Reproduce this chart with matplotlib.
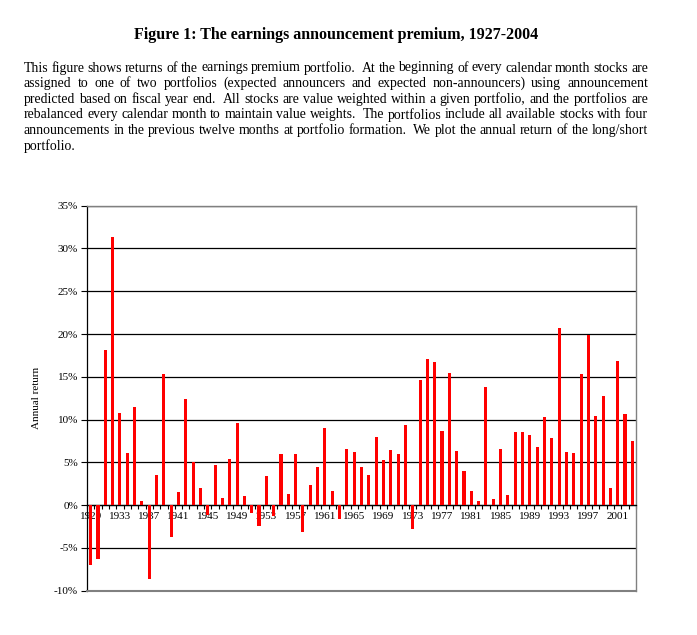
import matplotlib
matplotlib.use("Agg")
import matplotlib.pyplot as plt

# ---- data ----
years = list(range(1929, 2004))
returns = [-7.0, -6.3, 18.1, 31.3, 10.75, 6.1, 11.45, 0.47, -8.65, 3.5,
           15.3, -3.74, 1.5, 12.4, 5.0, 2.0, -1.13, 4.67, 0.82, 5.38,
           9.58, 1.05, -0.9, -2.4, 3.39, -1.25, 5.96, 1.29, 5.96, -3.1,
           2.34, 4.44, 9.0, 1.64, -1.6, 6.54, 6.2, 4.44, 3.5, 7.95,
           5.26, 6.43, 5.96, 9.35, -2.77, 14.6, 17.06, 16.7, 8.65, 15.4,
           6.3, 3.97, 1.64, 0.47, 13.8, 0.7, 6.54, 1.17, 8.53, 8.53,
           8.18, 6.78, 10.28, 7.83, 20.69, 6.19, 6.08, 15.31, 19.87, 10.4,
           12.74, 1.99, 16.83, 10.63, 7.48]
xtick_years = [1929, 1933, 1937, 1941, 1945, 1949, 1953, 1957, 1961, 1965,
               1969, 1973, 1977, 1981, 1985, 1989, 1993, 1997, 2001]
ytick_vals = [-10, -5, 0, 5, 10, 15, 20, 25, 30, 35]
ytick_labels = ["-10%", "-5%", "0%", "5%", "10%", "15%", "20%", "25%", "30%", "35%"]

title = "Figure 1: The earnings announcement premium, 1927-2004"
caption_lines = [
    "This figure shows returns of the earnings premium portfolio.  At the beginning of every calendar month stocks are",
    "assigned to one of two portfolios (expected announcers and expected non-announcers) using announcement",
    "predicted based on fiscal year end.  All stocks are value weighted within a given portfolio, and the portfolios are",
    "rebalanced every calendar month to maintain value weights.  The portfolios include all available stocks with four",
    "announcements in the previous twelve months at portfolio formation.  We plot the annual return of the long/short",
    "portfolio.",
]

SERIF = "Liberation Serif"
W, H = 697, 635
fig = plt.figure(figsize=(W / 100, H / 100), dpi=100)

# title
fig.text(336 / W, 1 - 35 / H, title, ha="center", va="center",
         family=SERIF, fontweight="bold", fontsize=11.5)

# justified caption
renderer = fig.canvas.get_renderer()
x_left, x_right = 24, 648
y0, dy = 68, 15.6
cap_size = 9.9
for li, line in enumerate(caption_lines):
    y = 1 - (y0 + li * dy) / H
    tokens = line.split(" ")
    words = []
    gaps = []
    w = 0
    for t in tokens:
        if t == "":
            w += 1
            continue
        words.append(t)
        gaps.append(w + 1 if words[:-1] else 0)
        w = 0
    texts = [fig.text(0, y, wd, ha="left", va="center", family=SERIF,
                      fontsize=cap_size) for wd in words]
    widths = [t.get_window_extent(renderer).width for t in texts]
    if li < len(caption_lines) - 1:
        gap_unit = (x_right - x_left - sum(widths)) / sum(gaps)
    else:
        gap_unit = 3.0
    xpos = x_left
    for t, wd, g in zip(texts, widths, gaps):
        xpos += g * gap_unit
        t.set_x(xpos / W)
        xpos += wd

# chart
left, right, top, bottom = 87, 636, 205.7, 590.7
ax = fig.add_axes([left / W, 1 - bottom / H, (right - left) / W, (bottom - top) / H])
ax.set_axisbelow(True)
xs = list(range(len(years)))
ax.bar(xs, returns, width=0.42, color="#ff0000", zorder=3)
ax.set_xlim(-0.5, len(years) - 0.5)
ax.set_ylim(-10, 35)

ax.set_yticks(ytick_vals)
ax.set_yticklabels(ytick_labels, family=SERIF, fontsize=8)
ax.tick_params(axis="y", direction="out", length=4, width=0.8, pad=2.5)
ax.yaxis.grid(True, color="black", linewidth=0.9)
ax.set_ylabel("Annual return", family=SERIF, fontsize=8, labelpad=9)

# x axis at zero
ax.spines["bottom"].set_position(("data", 0))
ax.spines["bottom"].set_color("black")
ax.spines["bottom"].set_linewidth(0.9)
ax.spines["left"].set_linewidth(0.9)
for s in ("top", "right"):
    ax.spines[s].set_color("#808080")
    ax.spines[s].set_linewidth(1.0)
ax.axhline(-10, color="#808080", linewidth=1.5, zorder=4, clip_on=False)

ax.set_xticks([i - 0.5 for i in range(len(years) + 1)])
ax.set_xticklabels([])
ax.tick_params(axis="x", which="major", direction="out", length=3, width=0.8)
ax.set_xticks([years.index(y) for y in xtick_years], [str(y) for y in xtick_years],
              minor=True)
ax.tick_params(axis="x", which="minor", length=0, pad=5, labelsize=8)
for lbl in ax.get_xticklabels(minor=True):
    lbl.set_family(SERIF)

fig.savefig("out.png", dpi=100)
